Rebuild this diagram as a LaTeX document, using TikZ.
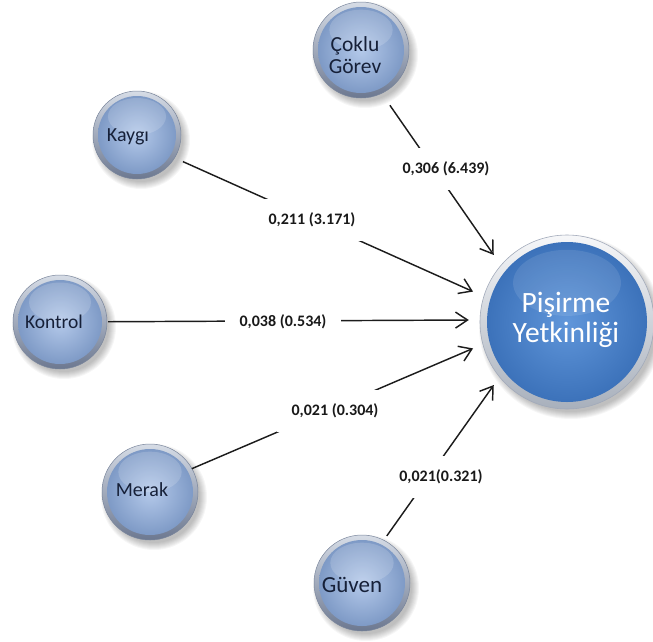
\documentclass[tikz,border=0pt]{standalone}
\usepackage{fontspec}
\setmainfont{Carlito}
\usetikzlibrary{arrows.meta}

\definecolor{ringtop}{RGB}{214,220,230}
\definecolor{ringbot}{RGB}{108,120,144}
\definecolor{ringedge}{RGB}{122,134,156}
\definecolor{ballin}{RGB}{180,201,234}
\definecolor{ballout}{RGB}{126,154,198}
\definecolor{bigin}{RGB}{96,150,218}
\definecolor{bigout}{RGB}{60,114,186}
\definecolor{bigringtop}{RGB}{246,247,249}
\definecolor{bigringbot}{RGB}{168,176,188}
\definecolor{nodetext}{RGB}{22,32,56}
\definecolor{linec}{RGB}{28,28,28}

% soft drop shadow, offset to the lower right
\newcommand\ballshadow[2]{%
  \foreach \k in {0,...,7}
    \fill[black,opacity=0.035] ([shift={(4,5)}]#1) circle ({(#2+5-\k)*1pt});
}
% light blue glossy ball with a grey rim
\newcommand\smallball[2]{%
  \ballshadow{#1}{#2}
  \shade[top color=ringtop,bottom color=ringbot,draw=ringedge,line width=0.5pt]
    (#1) circle ({#2*1pt});
  \shade[inner color=ballin,outer color=ballout] (#1) circle ({(#2-5)*1pt});
  \fill[white,opacity=0.16] ([shift={(0,{-0.42*#2})}]#1)
    ellipse ({0.66*#2*1pt} and {0.42*#2*1pt});
}
% large blue ball with a silver rim
\newcommand\bigball[2]{%
  \ballshadow{#1}{#2}
  \shade[top color=bigringtop,bottom color=bigringbot,draw=ringedge!70,line width=0.6pt]
    (#1) circle ({#2*1pt});
  \shade[inner color=bigin,outer color=bigout] (#1) circle ({(#2-7)*1pt});
  \fill[white,opacity=0.10] ([shift={(0,{-0.45*#2})}]#1)
    ellipse ({0.62*#2*1pt} and {0.38*#2*1pt});
}

\begin{document}
\begin{tikzpicture}[x=1pt,y=-1pt,
  factor/.style={circle,inner sep=0pt,align=center,text=nodetext,
    font=\fontsize{19.5}{20}\selectfont},
  target/.style={circle,inner sep=0pt,minimum size=194pt,align=center,text=white,
    font=\fontsize{29.5}{30}\selectfont},
  arr/.style={draw=linec,line width=1.45pt,
    -{Straight Barb[length=12pt,width=16pt]}},
  lbl/.style={fill=white,inner xsep=15pt,inner ysep=0pt,minimum height=42pt,
    text=black!90,font=\fontsize{16}{17}\selectfont\bfseries}]
\useasboundingbox (0,0) rectangle (653,641);

% the balls
\smallball{361,50}{48}
\smallball{137,135}{44}
\smallball{60,322}{47}
\smallball{150,492}{48}
\smallball{362,583}{48}
\bigball{567,322}{87}

% named nodes carrying the texts
\node[factor,minimum size=122pt,font=\fontsize{21.5}{22}\selectfont] (cok) at (355,55) {Çoklu\\Görev};
\node[factor,minimum size=120pt,font=\fontsize{20}{21}\selectfont] (kay) at (128,137) {Kaygı};
\node[factor,minimum size=108pt] (kon) at (54,322) {Kontrol};
\node[factor,minimum size=108pt,font=\fontsize{20}{21}\selectfont] (mer) at (142,490) {Merak};
\node[factor,minimum size=120pt,font=\fontsize{23}{24}\selectfont] (guv) at (352,585) {Güven};
\node[target] (pis) at (566,320) {Pişirme\\Yetkinliği};

% paths into the outcome
\draw[arr] (cok) -- (pis.138);
\draw[arr] (kay) -- (pis.163);
\draw[arr] (kon) -- (pis.180);
\draw[arr] (mer) -- (pis.197);
\draw[arr] (guv) -- (pis.222);

% coefficients, masking the lines behind them
\node[lbl] (w1) at (446,169) {0,306 (6.439)};
\node[lbl] (w2) at (312,220) {0,211 (3.171)};
\node[lbl] (w3) at (283,322) {0,038 (0.534)};
\node[lbl] (w4) at (335,411) {0,021 (0.304)};
\node[lbl] (w5) at (441,477) {0,021(0.321)};
\end{tikzpicture}
\end{document}
